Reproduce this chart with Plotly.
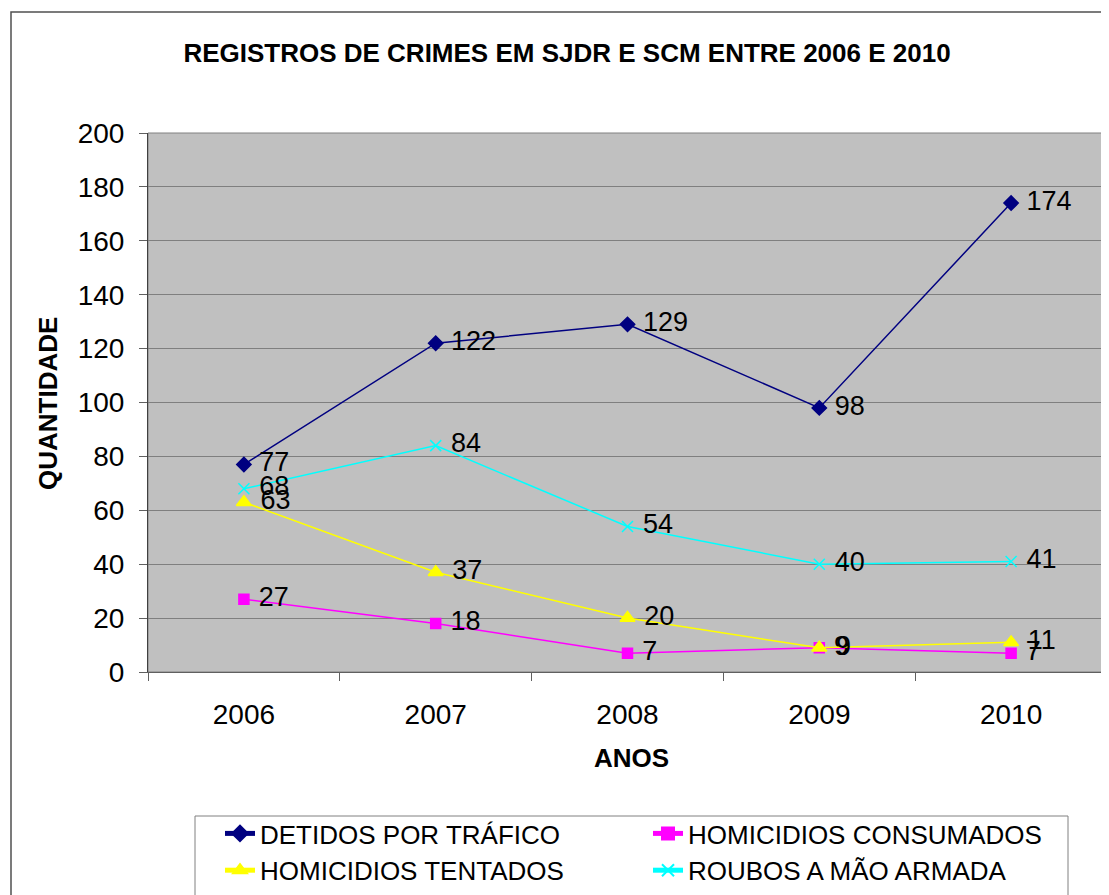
import plotly.graph_objects as go

# chart data
anos = ["2006", "2007", "2008", "2009", "2010"]
detidos_trafico = [77, 122, 129, 98, 174]
homicidios_consumados = [27, 18, 7, 9, 7]
homicidios_tentados = [63, 37, 20, 9, 11]
roubos_mao_armada = [68, 84, 54, 40, 41]

FONT = "Liberation Sans, Arial, sans-serif"

series = [
    ("DETIDOS POR TRÁFICO", detidos_trafico, "#000080", "diamond", 11),
    ("HOMICIDIOS CONSUMADOS", homicidios_consumados, "#FF00FF", "square", 10),
    ("HOMICIDIOS TENTADOS", homicidios_tentados, "#FFFF00", "triangle-up", 13),
    ("ROUBOS A MÃO ARMADA", roubos_mao_armada, "#00FFFF", "x-thin-open", 11),
]

fig = go.Figure()
for name, vals, color, symbol, size in series:
    fig.add_trace(go.Scatter(
        x=anos, y=vals, name=name,
        mode="lines+markers+text",
        line=dict(color=color, width=1.5),
        marker=dict(symbol=symbol, size=size, color=color,
                    line=dict(color=color, width=1.5)),
        text=[" " + str(v) for v in vals],
        textposition="middle right",
        textfont=dict(family=FONT, size=27, color="black"),
        cliponaxis=False,
    ))

# the page body adds an 8px margin, so target pixels are shifted by -8
OFF = 8
W, H = 1109, 895
L, R, T, B = 148 - OFF, 1107 - OFF, 133 - OFF, 672 - OFF
pw, ph = R - L, B - T


def px_x(p):
    return (p - OFF - L) / pw


def px_y(p):
    return (B - (p - OFF)) / ph


fig.update_layout(
    width=W, height=H,
    margin=dict(l=L, r=W - R, t=T, b=H - B, autoexpand=False),
    paper_bgcolor="white",
    plot_bgcolor="#C0C0C0",
    font=dict(family=FONT, size=28, color="black"),
    title=dict(text="<b>REGISTROS DE CRIMES EM SJDR E SCM ENTRE 2006 E 2010</b>",
               font=dict(family=FONT, size=26, color="black"),
               x=(567 - OFF) / W, xanchor="center", xref="container",
               y=1 - (53 - OFF) / H, yanchor="middle", yref="container"),
    showlegend=True,
    legend=dict(orientation="h", x=px_x(220), y=px_y(810),
                xanchor="left", yanchor="top",
                entrywidth=383, entrywidthmode="pixels",
                font=dict(family=FONT, size=26, color="black"),
                bgcolor="rgba(0,0,0,0)", borderwidth=0,
                itemsizing="constant", traceorder="normal"),
    xaxis=dict(type="category", tickson="boundaries", ticks="outside",
               ticklen=8, tickcolor="#606060", showline=True,
               linecolor="#606060", linewidth=1, showgrid=False,
               tickfont=dict(size=28), ticklabelstandoff=17,
               range=[-0.5, 4.5], mirror=False, automargin=False),
    yaxis=dict(range=[0, 200], dtick=20, tick0=0, ticks="outside",
               ticklen=8, tickcolor="#606060", showline=True,
               linecolor="#404040", linewidth=1, showgrid=True,
               gridcolor="#7F7F7F", gridwidth=1, zeroline=False,
               tickfont=dict(size=28), ticklabelstandoff=9,
               automargin=False),
)

# plot-area border (top & right), legend box and outer chart frame
fig.add_shape(type="rect", xref="paper", yref="paper", x0=0, x1=1, y0=0, y1=1,
              line=dict(color="#808080", width=1), layer="below")
fig.add_shape(type="rect", xref="paper", yref="paper",
              x0=px_x(195), x1=px_x(1068), y0=px_y(920), y1=px_y(816),
              line=dict(color="#808080", width=1), fillcolor="white", layer="below")
fig.add_shape(type="path", xref="paper", yref="paper",
              path=f"M {px_x(11)},{px_y(910)} L {px_x(11)},{px_y(12)} L {px_x(1125)},{px_y(12)}",
              line=dict(color="#505050", width=1.5))

fig.add_annotation(text="<b>QUANTIDADE</b>", xref="paper", yref="paper",
                   x=px_x(48), y=px_y(404), textangle=-90, showarrow=False,
                   font=dict(family=FONT, size=26, color="black"),
                   xanchor="center", yanchor="middle")
fig.add_annotation(text="<b>ANOS</b>", xref="paper", yref="paper",
                   x=px_x(631), y=px_y(758), showarrow=False,
                   font=dict(family=FONT, size=26, color="black"),
                   xanchor="center", yanchor="middle")

fig.write_html("out.html")
